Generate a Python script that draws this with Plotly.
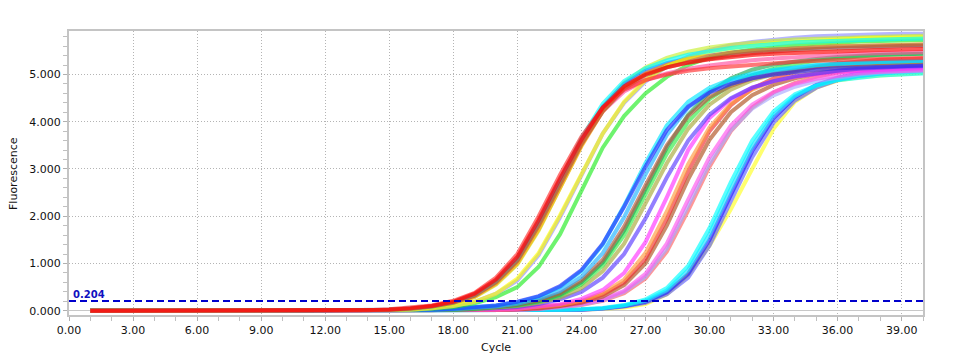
import plotly.graph_objects as go

cycles = [1, 2, 3, 4, 5, 6, 7, 8, 9, 10,
          11, 12, 13, 14, 15, 16, 17, 18, 19, 20,
          21, 22, 23, 24, 25, 26, 27, 28, 29, 30,
          31, 32, 33, 34, 35, 36, 37, 38, 39, 40]

threshold = 0.204
x_ticks = [0, 3, 6, 9, 12, 15, 18, 21, 24, 27, 30, 33, 36, 39]
y_ticks = [0, 1, 2, 3, 4, 5]

Z10 = [0, 0, 0, 0, 0, 0, 0, 0, 0, 0]

# ---- group A (earliest) ----
a_red1 = Z10 + [0, 0, 0, 0.01, 0.02, 0.05, 0.10, 0.19, 0.36, 0.66,
                1.14, 1.92, 2.80, 3.62, 4.30, 4.75, 5.00, 5.15, 5.25, 5.32,
                5.37, 5.41, 5.44, 5.46, 5.48, 5.50, 5.51, 5.52, 5.53, 5.54]
a_red2 = Z10 + [0, 0, 0, 0.01, 0.03, 0.06, 0.11, 0.21, 0.38, 0.70,
                1.20, 2.00, 2.88, 3.68, 4.30, 4.68, 4.88, 5.00, 5.08, 5.13,
                5.17, 5.21, 5.24, 5.27, 5.29, 5.31, 5.32, 5.33, 5.34, 5.35]
a_sienna = Z10 + [0, 0, 0, 0.01, 0.02, 0.04, 0.09, 0.17, 0.32, 0.60,
                  1.05, 1.80, 2.68, 3.52, 4.22, 4.70, 4.98, 5.15, 5.26, 5.34,
                  5.40, 5.45, 5.49, 5.52, 5.54, 5.56, 5.58, 5.59, 5.60, 5.61]
a_cyan = Z10 + [0, 0, 0, 0.01, 0.02, 0.05, 0.09, 0.18, 0.34, 0.63,
                1.10, 1.88, 2.78, 3.65, 4.38, 4.86, 5.13, 5.30, 5.42, 5.50,
                5.56, 5.61, 5.65, 5.68, 5.70, 5.72, 5.73, 5.74, 5.75, 5.76]
a_yellow = Z10 + [0, 0, 0, 0, 0.01, 0.02, 0.05, 0.10, 0.19, 0.36,
                  0.68, 1.22, 2.02, 2.90, 3.75, 4.42, 4.88, 5.18, 5.36, 5.48,
                  5.56, 5.62, 5.66, 5.69, 5.72, 5.74, 5.76, 5.77, 5.78, 5.79]
a_orange = Z10 + [0, 0, 0, 0.01, 0.02, 0.04, 0.08, 0.16, 0.30, 0.57,
                  1.00, 1.72, 2.60, 3.48, 4.22, 4.72, 5.02, 5.20, 5.32, 5.40,
                  5.46, 5.50, 5.53, 5.56, 5.58, 5.60, 5.61, 5.62, 5.63, 5.64]
a_pink = Z10 + [0, 0, 0, 0.01, 0.02, 0.05, 0.10, 0.18, 0.34, 0.63,
                1.10, 1.86, 2.74, 3.55, 4.22, 4.64, 4.88, 5.02, 5.12, 5.19,
                5.25, 5.30, 5.34, 5.37, 5.40, 5.42, 5.44, 5.45, 5.46, 5.47]
a_blue = Z10 + [0, 0, 0, 0.01, 0.02, 0.05, 0.09, 0.17, 0.33, 0.62,
                1.08, 1.85, 2.74, 3.60, 4.32, 4.80, 5.08, 5.24, 5.34, 5.41,
                5.46, 5.50, 5.53, 5.55, 5.57, 5.59, 5.60, 5.61, 5.62, 5.63]
a_lime = Z10 + [0, 0, 0, 0.01, 0.02, 0.04, 0.08, 0.15, 0.29, 0.55,
                0.98, 1.70, 2.60, 3.50, 4.28, 4.82, 5.15, 5.35, 5.48, 5.57,
                5.63, 5.68, 5.71, 5.74, 5.76, 5.78, 5.79, 5.80, 5.81, 5.82]

# ---- group B ----
b_green = Z10 + [0, 0, 0, 0, 0.01, 0.02, 0.04, 0.08, 0.16, 0.29,
                 0.50, 0.93, 1.62, 2.55, 3.45, 4.12, 4.60, 4.95, 5.20, 5.36,
                 5.46, 5.53, 5.58, 5.62, 5.65, 5.68, 5.70, 5.71, 5.72, 5.73]
b_lavender = Z10 + [0, 0, 0, 0, 0.01, 0.02, 0.05, 0.10, 0.19, 0.36,
                    0.64, 1.18, 1.98, 2.88, 3.75, 4.40, 4.85, 5.17, 5.38, 5.52,
                    5.62, 5.69, 5.74, 5.78, 5.81, 5.83, 5.84, 5.85, 5.86, 5.86]

# ---- group C ----
c_blue = Z10 + [0, 0, 0, 0, 0, 0.01, 0.02, 0.04, 0.07, 0.11,
                0.19, 0.31, 0.52, 0.86, 1.42, 2.20, 3.05, 3.82, 4.32, 4.62,
                4.80, 4.92, 5.00, 5.06, 5.10, 5.13, 5.15, 5.17, 5.18, 5.19]
c_cyan = Z10 + [0, 0, 0, 0, 0, 0.01, 0.02, 0.04, 0.07, 0.11,
                0.18, 0.30, 0.50, 0.84, 1.40, 2.22, 3.12, 3.92, 4.42, 4.72,
                4.90, 5.02, 5.10, 5.16, 5.20, 5.23, 5.25, 5.27, 5.28, 5.29]
c_sky = Z10 + [0, 0, 0, 0, 0, 0.01, 0.02, 0.03, 0.05, 0.09,
               0.15, 0.25, 0.42, 0.72, 1.22, 1.98, 2.88, 3.72, 4.30, 4.65,
               4.86, 4.99, 5.08, 5.14, 5.19, 5.22, 5.25, 5.27, 5.28, 5.29]
c_sienna = Z10 + [0, 0, 0, 0, 0, 0, 0.01, 0.03, 0.05, 0.08,
                  0.13, 0.22, 0.37, 0.64, 1.08, 1.78, 2.65, 3.50, 4.12, 4.52,
                  4.76, 4.92, 5.02, 5.10, 5.16, 5.20, 5.23, 5.25, 5.27, 5.28]
c_green = Z10 + [0, 0, 0, 0, 0, 0, 0.01, 0.02, 0.04, 0.07,
                 0.11, 0.19, 0.32, 0.56, 0.96, 1.60, 2.45, 3.32, 4.00, 4.48,
                 4.78, 4.98, 5.12, 5.22, 5.29, 5.34, 5.38, 5.41, 5.43, 5.44]
c_olive = Z10 + [0, 0, 0, 0, 0, 0, 0.01, 0.02, 0.03, 0.06,
                 0.10, 0.17, 0.28, 0.48, 0.84, 1.42, 2.25, 3.12, 3.85, 4.36,
                 4.68, 4.88, 5.00, 5.08, 5.14, 5.18, 5.21, 5.23, 5.25, 5.26]
c_violet = Z10 + [0, 0, 0, 0, 0, 0, 0.01, 0.02, 0.03, 0.05,
                  0.08, 0.14, 0.24, 0.40, 0.70, 1.20, 1.95, 2.82, 3.60, 4.15,
                  4.50, 4.72, 4.86, 4.96, 5.03, 5.08, 5.12, 5.15, 5.17, 5.18]
c_dkgreen = Z10 + [0, 0, 0, 0, 0, 0, 0.01, 0.02, 0.04, 0.07,
                   0.12, 0.20, 0.34, 0.60, 1.02, 1.70, 2.58, 3.45, 4.15, 4.62,
                   4.92, 5.10, 5.21, 5.28, 5.33, 5.37, 5.40, 5.42, 5.43, 5.44]

# ---- group D ----
d_magenta = Z10 + [0, 0, 0, 0, 0, 0, 0, 0, 0.01, 0.02,
                   0.04, 0.08, 0.14, 0.25, 0.44, 0.80, 1.45, 2.40, 3.40, 4.08,
                   4.48, 4.72, 4.86, 4.95, 5.01, 5.05, 5.08, 5.10, 5.12, 5.13]
d_orange = Z10 + [0, 0, 0, 0, 0, 0, 0, 0, 0.01, 0.02,
                  0.04, 0.07, 0.12, 0.21, 0.37, 0.66, 1.22, 2.10, 3.10, 3.88,
                  4.38, 4.68, 4.86, 4.98, 5.06, 5.12, 5.16, 5.19, 5.21, 5.22]
d_red = Z10 + [0, 0, 0, 0, 0, 0, 0, 0, 0.01, 0.02,
               0.03, 0.06, 0.11, 0.19, 0.34, 0.60, 1.10, 1.95, 2.95, 3.80,
               4.35, 4.70, 4.92, 5.06, 5.16, 5.23, 5.28, 5.31, 5.33, 5.34]
d_brown = Z10 + [0, 0, 0, 0, 0, 0, 0, 0, 0.01, 0.02,
                 0.03, 0.05, 0.10, 0.17, 0.30, 0.54, 1.00, 1.80, 2.78, 3.62,
                 4.20, 4.56, 4.78, 4.92, 5.02, 5.09, 5.14, 5.17, 5.19, 5.20]
d_pink = Z10 + [0, 0, 0, 0, 0, 0, 0, 0, 0, 0.01,
                0.02, 0.04, 0.08, 0.14, 0.24, 0.42, 0.78, 1.42, 2.35, 3.25,
                3.92, 4.36, 4.63, 4.80, 4.91, 4.98, 5.03, 5.06, 5.08, 5.09]
d_lavender = Z10 + [0, 0, 0, 0, 0, 0, 0, 0, 0, 0.01,
                    0.02, 0.04, 0.07, 0.13, 0.22, 0.40, 0.72, 1.32, 2.22, 3.12,
                    3.82, 4.28, 4.56, 4.74, 4.86, 4.94, 5.00, 5.04, 5.07, 5.08]
d_salmon = Z10 + [0, 0, 0, 0, 0, 0, 0, 0, 0, 0.01,
                  0.02, 0.04, 0.07, 0.12, 0.21, 0.37, 0.68, 1.25, 2.12, 3.05,
                  3.80, 4.30, 4.62, 4.82, 4.95, 5.04, 5.10, 5.14, 5.17, 5.19]

# ---- group E (latest) ----
e_cyan = Z10 + Z10 + [0, 0.01, 0.02, 0.03, 0.06, 0.12, 0.24, 0.48, 0.95, 1.75,
                      2.72, 3.60, 4.22, 4.58, 4.77, 4.88, 4.94, 4.98, 5.00, 5.02]
e_cyan2 = Z10 + Z10 + [0, 0.01, 0.02, 0.03, 0.05, 0.11, 0.21, 0.43, 0.86, 1.62,
                       2.58, 3.48, 4.14, 4.54, 4.76, 4.89, 4.97, 5.02, 5.05, 5.07]
e_blue = Z10 + Z10 + [0, 0, 0.01, 0.02, 0.05, 0.10, 0.19, 0.39, 0.78, 1.50,
                      2.45, 3.38, 4.08, 4.52, 4.78, 4.93, 5.02, 5.08, 5.12, 5.14]
e_slate = Z10 + Z10 + [0, 0, 0.01, 0.02, 0.04, 0.09, 0.17, 0.35, 0.70, 1.38,
                       2.32, 3.25, 3.98, 4.45, 4.72, 4.88, 4.97, 5.03, 5.07, 5.09]
e_yellow = Z10 + Z10 + [0, 0, 0.01, 0.02, 0.04, 0.07, 0.14, 0.35, 0.76, 1.38,
                        2.15, 3.02, 3.85, 4.42, 4.72, 4.87, 4.94, 4.98, 5.01, 5.03]

# drawing order (back to front) and colours
series = [
    (e_yellow, "#FFFF22"), (e_slate, "#6060FF"), (e_blue, "#2020FF"),
    (e_cyan2, "#22DDFF"), (e_cyan, "#00FFFF"),
    (d_salmon, "#FF6060"), (d_lavender, "#A8A8FF"), (d_pink, "#FF55EE"),
    (d_brown, "#B0501E"), (d_red, "#F03030"), (d_orange, "#FF9A40"),
    (d_magenta, "#FF33FF"),
    (c_violet, "#5A3CFF"), (c_olive, "#A8A838"), (c_green, "#33EE44"),
    (c_dkgreen, "#22AA55"), (c_sienna, "#B4553C"), (c_sky, "#1EB4FF"),
    (c_cyan, "#00E8FF"), (c_blue, "#2828FF"),
    (b_green, "#22EE22"), (b_lavender, "#9090FF"),
    (a_lime, "#C8F032"), (a_blue, "#3333FF"), (a_pink, "#FF4FA0"),
    (a_orange, "#FFA500"), (a_yellow, "#FFFF00"), (a_cyan, "#00FFFF"),
    (a_sienna, "#B5523B"), (a_red2, "#FF3030"), (a_red1, "#FF0000"),
]

for vals, _ in series:
    if len(vals) != len(cycles):
        raise ValueError("length mismatch %d" % len(vals))

fig = go.Figure()
for vals, col in series:
    fig.add_trace(go.Scatter(
        x=cycles, y=vals, mode="lines",
        line=dict(color=col, width=4),
        opacity=0.65, showlegend=False, hoverinfo="skip"))

fig.add_hline(y=threshold, line=dict(color="#0000CC", width=2, dash="7px,4px"))
fig.add_annotation(x=0, xref="paper", y=threshold, yref="y",
                   text="<b>%.3f</b>" % threshold, showarrow=False,
                   xanchor="left", yanchor="bottom", xshift=2, yshift=-1,
                   font=dict(family="DejaVu Sans", size=10, color="#1010C0"))

axis_font = dict(family="DejaVu Sans", size=11, color="#111111")
# the page body adds an 8px offset; the figure is sized so that the
# plot area lands at x 69..923, y 31..315 of the 953x360 window
fig.update_layout(
    width=945, height=352,
    margin=dict(l=61, r=30, t=23, b=45),
    paper_bgcolor="white", plot_bgcolor="white",
    font=axis_font,
    xaxis=dict(range=[0, 40], tickvals=x_ticks,
               ticktext=["%.2f" % v for v in x_ticks],
               showgrid=True, gridcolor="#B4B4B4", griddash="1px,2px", gridwidth=1,
               showline=True, linecolor="#C4C4C4", linewidth=2, mirror=True,
               ticks="outside", ticklen=4, tickcolor="#B0B0B0",
               minor=dict(dtick=1, tick0=0, ticks="outside", ticklen=4,
                          tickcolor="#C0C0C0", showgrid=False),
               zeroline=False, tickfont=axis_font),
    yaxis=dict(range=[-0.09, 5.92], tickvals=y_ticks,
               ticktext=["%.3f" % v for v in y_ticks],
               showgrid=True, gridcolor="#B4B4B4", griddash="1px,2px", gridwidth=1,
               showline=True, linecolor="#C4C4C4", linewidth=2, mirror=True,
               ticks="outside", ticklen=4, tickcolor="#B0B0B0",
               minor=dict(dtick=0.2, tick0=0, ticks="outside", ticklen=4,
                          tickcolor="#C0C0C0", showgrid=False),
               zeroline=True, zerolinecolor="#C8C8C8", zerolinewidth=1,
               tickfont=axis_font),
)
fig.add_annotation(x=-0.0656, xref="paper", y=0.5, yref="paper",
                   text="Fluorescence", textangle=-90, showarrow=False,
                   xanchor="center", yanchor="middle", font=axis_font)
fig.add_annotation(x=0.5, xref="paper", y=-0.116, yref="paper",
                   text="Cycle", showarrow=False,
                   xanchor="center", yanchor="middle", font=axis_font)

fig.write_html("out.html")
